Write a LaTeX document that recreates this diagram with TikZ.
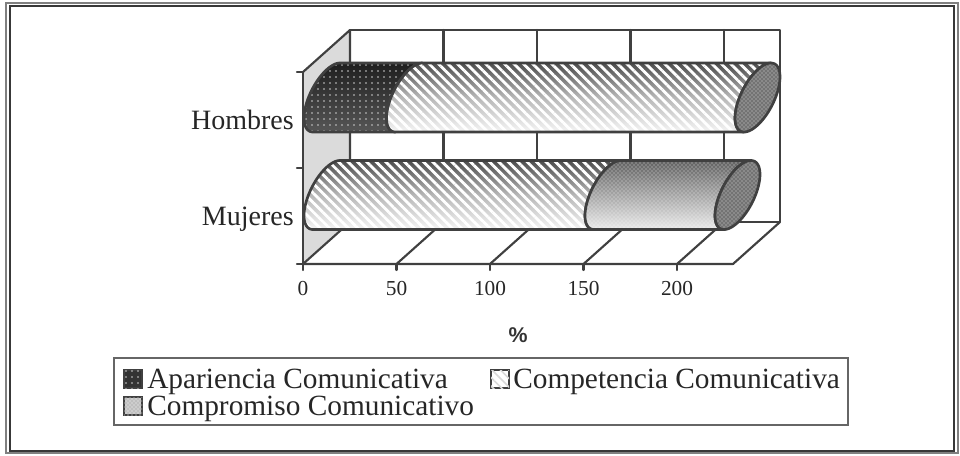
\documentclass[tikz,border=0pt]{standalone}
\usepackage{fontspec}
\setmainfont{Liberation Serif}
\newfontfamily\pctfont{Liberation Sans}
\usetikzlibrary{patterns,patterns.meta}
\tikzset{
  ln/.style={draw=black!75, line width=1.6pt, line cap=round, line join=round},
  cyl/.style={draw=black!75, line width=2pt, line join=round},
  aparfill/.style={top color=black!88, bottom color=black!66, postaction={pattern={Dots[radius=0.6pt,distance=4.5pt]}, pattern color=white!80!black}},
  compfill/.style={top color=black!70, bottom color=black!4, middle color=black!28, postaction={pattern={Lines[angle=-45,distance=5pt,line width=2.1pt]}, pattern color=white, fill opacity=0.45}},
  comprfill/.style={top color=black!62, bottom color=black!8, postaction={pattern=crosshatch dots, pattern color=white, fill opacity=0.75}},
  capfill/.style={fill=black!55, postaction={pattern=crosshatch dots, pattern color=white!85!black}},
  lbl/.style={font=\fontsize{21}{24}\selectfont, text=black!85, inner sep=0pt, anchor=base east},
  ticklbl/.style={font=\fontsize{16}{18}\selectfont, text=black!85, inner sep=0pt, anchor=base},
  legtxt/.style={font=\fontsize{22}{26}\selectfont, text=black!85, inner sep=0pt, anchor=base west},
  swatch/.style={draw=black!75, line width=1.3pt},
}
% cylinder segment: #1 start centre x, #2 end centre x, #3 centre y, #4 fill style
\newcommand\cylseg[4]{%
  \path[#4, postaction={cyl}] ({#1+13.4},{#3-34.5}) -- ({#2+13.4},{#3-34.5})
    -- plot[domain=143.4:323.4,samples=40] ({#2+22.5*sin(\x)},{#3+27.7*cos(\x)-20.6*sin(\x)})
    -- ({#1-13.4},{#3+34.5})
    -- plot[domain=323.4:143.4,samples=40] ({#1+22.5*sin(\x)},{#3+27.7*cos(\x)-20.6*sin(\x)})
    -- cycle;}
\newcommand\cylcap[2]{%
  \path[capfill, postaction={cyl}] plot[domain=0:360,samples=80] ({#1+22.5*sin(\x)},{#2+27.7*cos(\x)-20.6*sin(\x)}) -- cycle;}
\begin{document}
\begin{tikzpicture}[x=0.75pt,y=-0.75pt]
\useasboundingbox (0,0) rectangle (960,455);
% outer frame
\draw[black!50, line width=1.5pt] (5.5,2.5) rectangle (957.5,453);
\draw[black!78, line width=1.5pt] (9.5,6) rectangle (954,451);
% corner points
\coordinate (ft) at (303,72);
\coordinate (fb) at (303,264);
\coordinate (bt) at (350,30);
\coordinate (bb) at (350,222);
\coordinate (brt) at (780,30);
\coordinate (brb) at (780,222);
\coordinate (frb) at (733,264);
% side wall
\fill[black!14] (ft) -- (bt) -- (bb) -- (fb) -- cycle;
\draw[ln] (ft) -- (bt) -- (bb);
% back wall
\draw[ln] (bt) -- (brt) -- (brb) -- (bb);
\foreach \k in {1,2,3,4}{
  \draw[ln] ({350+93.5*\k},30) -- ({350+93.5*\k},222);
}
% floor
\draw[ln] (fb) -- (frb) -- (brb);
\foreach \k in {0,1,2,3,4}{
  \draw[ln] ({303+93.5*\k},264) -- ({350+93.5*\k},222);
  \draw[ln] ({303+93.5*\k},264) -- ({303+93.5*\k},270);
}
% value axis
\draw[ln] (303,72) -- (303,264);
\foreach \yy in {72,168,264}{ \draw[ln] (297,\yy) -- (303,\yy); }
% bars
\cylseg{326.5}{409}{97.5}{aparfill}
\cylseg{409}{757.5}{97.5}{compfill}
\cylcap{757.5}{97.5}
\cylseg{326.5}{607.5}{195}{compfill}
\cylseg{607.5}{737.5}{195}{comprfill}
\cylcap{737.5}{195}
% category labels
\node[lbl] (hom) at (294,129) {Hombres};
\node[lbl] (muj) at (294,225) {Mujeres};
% tick labels
\node[ticklbl] (t0) at (303,295) {0};
\node[ticklbl] (t50) at (396.5,295) {50};
\node[ticklbl] (t100) at (490,295) {100};
\node[ticklbl] (t150) at (583.5,295) {150};
\node[ticklbl] (t200) at (677,295) {200};
\node[font=\pctfont\bfseries\fontsize{16}{18}\selectfont, text=black!80, inner sep=0pt, anchor=base] (pct) at (518,342) {\%};
% legend
\draw[black!60, line width=2pt] (114,358) rectangle (848,425);
\path[swatch, fill=black!80, postaction={pattern={Dots[radius=0.7pt,distance=4.5pt]}, pattern color=white!80!black}] (124,370) rectangle (142,388);
\node[legtxt] (l1) at (147,388) {Apariencia Comunicativa};
\path[swatch, fill=white, postaction={pattern={Lines[angle=-45,distance=4.5pt,line width=1.2pt]}, pattern color=black!15}] (491,370) rectangle (509,388);
\node[legtxt] (l2) at (513,388) {Competencia Comunicativa};
\path[swatch, fill=black!25, postaction={pattern=crosshatch dots, pattern color=white}] (124,397) rectangle (142,415);
\node[legtxt] (l3) at (147,415) {Compromiso Comunicativo};
\end{tikzpicture}
\end{document}
